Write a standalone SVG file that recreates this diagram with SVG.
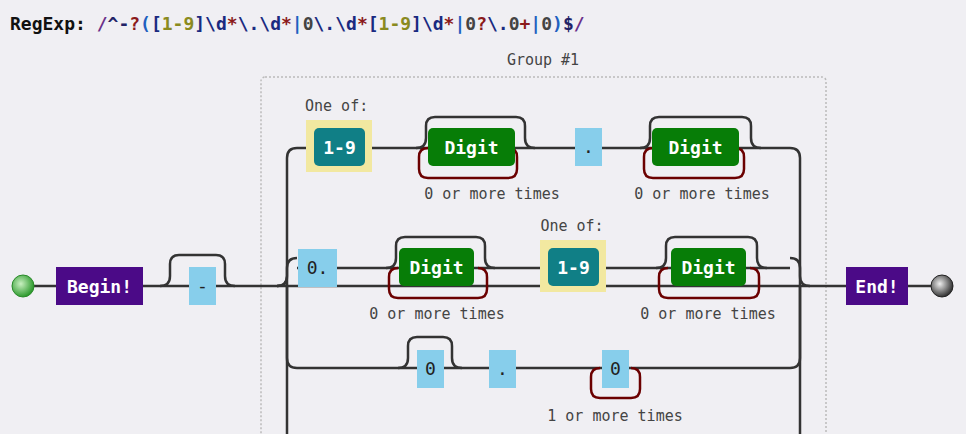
<svg xmlns="http://www.w3.org/2000/svg" width="966" height="434" viewBox="0 0 966 434">
<defs>
<radialGradient id="gs" cx="0.4" cy="0.4" r="0.6"><stop offset="0" stop-color="#c8f0c0"/><stop offset="1" stop-color="#2e9a2e"/></radialGradient>
<radialGradient id="ge" cx="0.4" cy="0.4" r="0.6"><stop offset="0" stop-color="#eee"/><stop offset="1" stop-color="#333"/></radialGradient>
<style>
.ln{fill:none;stroke:#333;stroke-width:2.5}
.rp{fill:none;stroke:#6b0000;stroke-width:2.5}
.mono{font-family:"DejaVu Sans Mono",monospace}
.lbl{font-family:"DejaVu Sans Mono",monospace;font-size:15px;fill:#444}
.lit{fill:#87ceeb}
.lt{font-family:"DejaVu Sans Mono",monospace;font-size:18px;fill:#222;text-anchor:middle}
.dg{fill:#077d07}
.wt{font-family:"DejaVu Sans Mono",monospace;font-size:18px;font-weight:bold;fill:#fff;text-anchor:middle}
.hl{fill:#f2e8a0}
.cs{fill:#107f86}
.an{fill:#4b0a87}
</style>
</defs>
<rect width="966" height="434" fill="#f0eff3"/>
<text x="10" y="30" class="mono" font-size="18" font-weight="bold" fill="#111">RegExp: <tspan fill="#6b2f8a">/</tspan><tspan fill="#222266">^</tspan><tspan fill="#222266">-</tspan><tspan fill="#8b1a1a">?</tspan><tspan fill="#2060c0">(</tspan><tspan fill="#1a2a80">[</tspan><tspan fill="#8a8a20">1-9</tspan><tspan fill="#1a2a80">]\d</tspan><tspan fill="#8b1a1a">*</tspan><tspan fill="#1a2a80">\.\d</tspan><tspan fill="#8b1a1a">*</tspan><tspan fill="#2060c0">|</tspan><tspan fill="#444">0</tspan><tspan fill="#1a2a80">\.\d</tspan><tspan fill="#8b1a1a">*</tspan><tspan fill="#1a2a80">[</tspan><tspan fill="#8a8a20">1-9</tspan><tspan fill="#1a2a80">]\d</tspan><tspan fill="#8b1a1a">*</tspan><tspan fill="#2060c0">|</tspan><tspan fill="#444">0</tspan><tspan fill="#8b1a1a">?</tspan><tspan fill="#1a2a80">\.</tspan><tspan fill="#444">0</tspan><tspan fill="#8b1a1a">+</tspan><tspan fill="#2060c0">|</tspan><tspan fill="#444">0</tspan><tspan fill="#2060c0">)</tspan><tspan fill="#222266">$</tspan><tspan fill="#6b2f8a">/</tspan></text>

<g id="group1">
<rect x="261" y="77" width="565" height="370" rx="4" fill="none" stroke="#bbb" stroke-width="1.5" stroke-dasharray="2,2"/>
<text x="543" y="65" class="lbl" text-anchor="middle">Group #1</text>
</g>

<g id="connectors">
<path class="ln" d="M34 286H56 M143 286H846 M908 286H931"/>
<path class="ln" d="M160 286q10 0 10-10v-12q0-9 9-9h37q9 0 9 9v12q0 10 10 10"/>
<path class="ln" d="M277 286q10 0 10-10v-118q0-10 10-10H790q10 0 10 10v118q0 10 10 10"/>
<path class="ln" d="M277 286q10 0 10-10v-8q0-10 10-10 M287 276v158 M800 276v158 M800 276v-8q0-10-10-10"/>
<path class="ln" d="M297 268H790"/>
<path class="ln" d="M287 286v72q0 10 10 10H790q10 0 10-10v-72"/>
<path class="ln" d="M416 148q10 0 10-10v-12q0-9 9-9h81q9 0 9 9v12q0 10 10 10"/>
<path class="ln" d="M640 148q10 0 10-10v-12q0-9 9-9h83q9 0 9 9v12q0 10 10 10"/>
<path class="ln" d="M386 268q10 0 10-10v-12q0-9 9-9h71q9 0 9 9v12q0 10 10 10"/>
<path class="ln" d="M656 268q10 0 10-10v-12q0-9 9-9h73q9 0 9 9v12q0 10 10 10"/>
<path class="ln" d="M398 368q10 0 10-10v-12q0-9 9-9h26q9 0 9 9v12q0 10 10 10"/>
<path class="rp" d="M428 148q-9 0-9 9v12q0 9 9 9h80q9 0 9-9v-12q0-9-9-9"/>
<path class="rp" d="M653 148q-9 0-9 9v12q0 9 9 9h82q9 0 9-9v-12q0-9-9-9"/>
<path class="rp" d="M398 268q-9 0-9 9v12q0 9 9 9h80q9 0 9-9v-12q0-9-9-9"/>
<path class="rp" d="M668 268q-9 0-9 9v12q0 9 9 9h82q9 0 9-9v-12q0-9-9-9"/>
<path class="rp" d="M600 368q-9 0-9 9v12q0 9 9 9h31q9 0 9-9v-12q0-9-9-9"/>
</g>

<g id="start"><circle cx="23" cy="286" r="11" fill="url(#gs)" stroke="#2a8a2a" stroke-width="1"/></g>
<g id="begin"><rect x="56" y="267" width="87" height="38" class="an"/><text x="99.5" y="293" class="wt">Begin!</text></g>
<g id="minus"><rect x="189" y="267" width="27" height="38" class="lit"/><text x="202.5" y="292" class="lt">-</text></g>

<g id="b1-class"><text x="305" y="111" class="lbl">One of:</text><rect x="306" y="120" width="66" height="52" class="hl"/><rect x="314" y="128" width="51" height="38" rx="5" class="cs"/><text x="339.5" y="154" class="wt">1-9</text></g>
<g id="b1-digit1"><rect x="428" y="128" width="87" height="38" rx="5" class="dg"/><text x="471.5" y="154" class="wt">Digit</text><text x="492" y="199" class="lbl" text-anchor="middle">0 or more times</text></g>
<g id="b1-dot"><rect x="575" y="128" width="27" height="38" class="lit"/><text x="588.5" y="153" class="lt">.</text></g>
<g id="b1-digit2"><rect x="652" y="128" width="87" height="38" rx="5" class="dg"/><text x="695.5" y="154" class="wt">Digit</text><text x="702" y="199" class="lbl" text-anchor="middle">0 or more times</text></g>

<g id="b2-zero-dot"><rect x="298" y="249" width="39" height="38" class="lit"/><text x="317.5" y="274" class="lt">0.</text></g>
<g id="b2-digit1"><rect x="399" y="248" width="75" height="38" rx="5" class="dg"/><text x="436.5" y="274" class="wt">Digit</text><text x="437" y="319" class="lbl" text-anchor="middle">0 or more times</text></g>
<g id="b2-class"><text x="572" y="231" class="lbl" text-anchor="middle">One of:</text><rect x="540" y="240" width="66" height="52" class="hl"/><rect x="548" y="248" width="51" height="38" rx="5" class="cs"/><text x="573.5" y="274" class="wt">1-9</text></g>
<g id="b2-digit2"><rect x="671" y="248" width="75" height="38" rx="5" class="dg"/><text x="708.5" y="274" class="wt">Digit</text><text x="708" y="319" class="lbl" text-anchor="middle">0 or more times</text></g>

<g id="b3-zero"><rect x="417" y="350" width="27" height="38" class="lit"/><text x="430.5" y="375" class="lt">0</text></g>
<g id="b3-dot"><rect x="489" y="350" width="27" height="38" class="lit"/><text x="502.5" y="375" class="lt">.</text></g>
<g id="b3-zero2"><rect x="602" y="350" width="27" height="38" class="lit"/><text x="615.5" y="375" class="lt">0</text><text x="615" y="421" class="lbl" text-anchor="middle">1 or more times</text></g>

<g id="end"><rect x="846" y="267" width="62" height="38" class="an"/><text x="877" y="293" class="wt">End!</text></g>
<g id="stop"><circle cx="942" cy="286" r="11" fill="url(#ge)" stroke="#222" stroke-width="1"/></g>
</svg>
